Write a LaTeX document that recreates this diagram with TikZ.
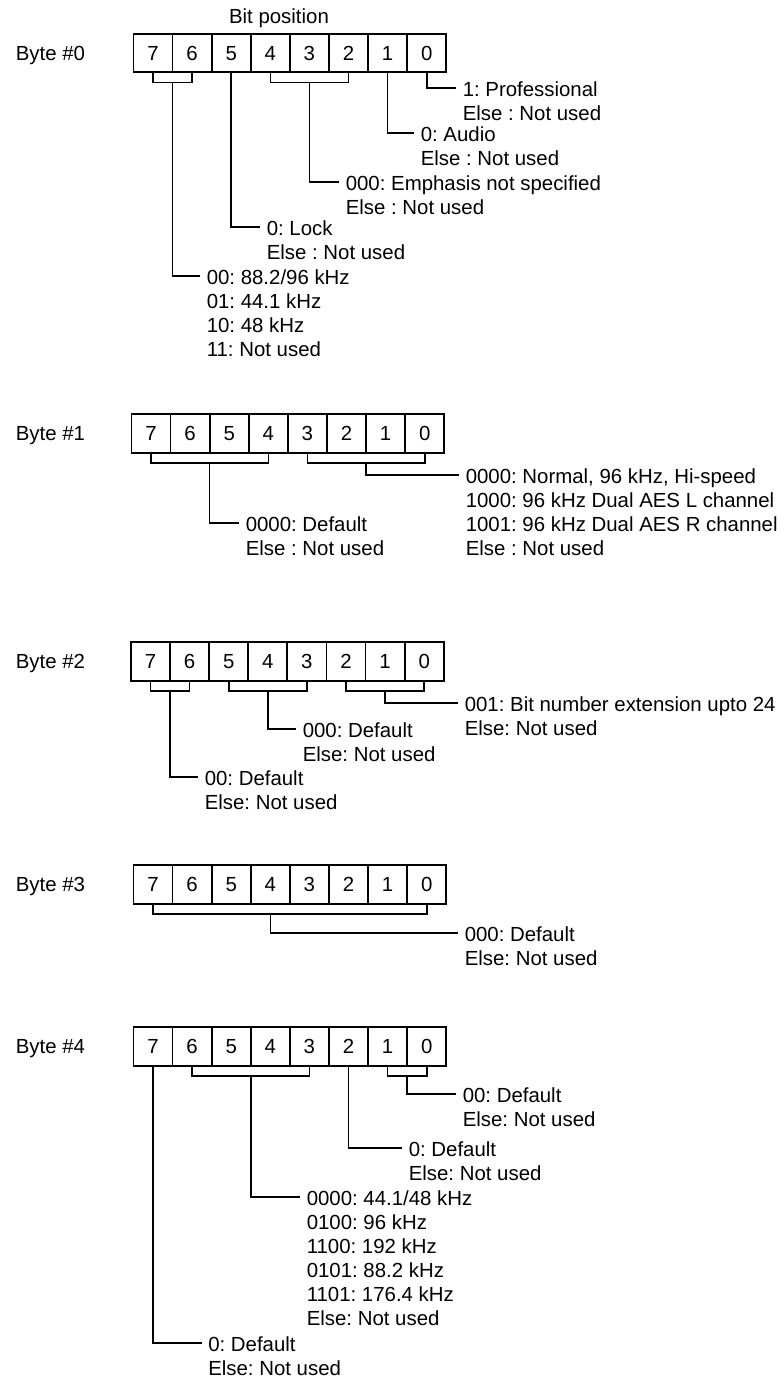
\documentclass[tikz,border=0pt]{standalone}
\usepackage{fontspec}
\setmainfont{Liberation Sans}
\frenchspacing
\usetikzlibrary{calc}

% bracket under bits #2..#3 of byte #1, lead to text node #4
\newcommand{\grplead}[4]{%
  \draw (b#1-#2.south) -- ++(0,9.5) -| (b#1-#3.south);
  \draw ($(b#1-#2.south)!0.5!(b#1-#3.south)+(0,9.5)$) |- ([yshift=-3.7pt]#4.north west);
}
% single bit #2 of byte #1, lead to text node #3
\newcommand{\bitlead}[3]{%
  \draw (b#1-#2.south) |- ([yshift=-3.7pt]#3.north west);
}

\begin{document}
\begin{tikzpicture}[x=0.5pt, y=-0.5pt, line width=0.8pt,
    every node/.style={font=\fontsize{10.2}{12}\selectfont},
    cell/.style={draw, line width=0.9pt, minimum width=19.55pt, minimum height=19.2pt,
      inner sep=0pt, text height=7.3pt, text depth=0pt},
    txt/.style={anchor=north west, align=left, inner xsep=3pt, inner ysep=0pt, yshift=3.7pt},
    bytelab/.style={anchor=base west, inner sep=0pt}]
  \useasboundingbox (0,0) rectangle (783,1378);

  \node (bitpos) at (279,18) {Bit position};

  % the five bytes, cells named b<byte>-<bit>
  \foreach \r/\y/\dx in {0/53/0, 1/433.5/-2, 2/661.5/-2.5, 3/884.5/0, 4/1046.5/0}{
    \node[bytelab] (byte\r) at (15,\y+7.3) {Byte \#\r};
    \foreach \b in {0,...,7}
      \node[cell] (b\r-\b) at ({153+\dx+39.1*(7-\b)},\y) {\b};
  }

  % byte 0
  \node[txt] (t0a) at (456,88) {1: Professional\\Else : Not used};
  \node[txt] (t0b) at (414,133) {0: Audio\\Else : Not used};
  \node[txt] (t0c) at (339,182) {000: Emphasis not specified\\Else : Not used};
  \node[txt] (t0d) at (260,227) {0: Lock\\Else : Not used};
  \node[txt] (t0e) at (200,276) {00: 88.2/96 kHz\\01: 44.1 kHz\\10: 48 kHz\\11: Not used};
  \bitlead{0}{0}{t0a}
  \bitlead{0}{1}{t0b}
  \grplead{0}{4}{2}{t0c}
  \bitlead{0}{5}{t0d}
  \grplead{0}{7}{6}{t0e}

  % byte 1
  \node[txt] (t1a) at (459,475) {0000: Normal, 96 kHz, Hi-speed\\1000: 96 kHz Dual AES L channel\\1001: 96 kHz Dual AES R channel\\Else : Not used};
  \node[txt] (t1b) at (239,523) {0000: Default\\Else : Not used};
  \grplead{1}{3}{0}{t1a}
  \grplead{1}{7}{4}{t1b}

  % byte 2
  \node[txt] (t2a) at (458,703) {001: Bit number extension upto 24\\Else: Not used};
  \node[txt] (t2b) at (296,729) {000: Default\\Else: Not used};
  \node[txt] (t2c) at (198,777) {00: Default\\Else: Not used};
  \grplead{2}{2}{0}{t2a}
  \grplead{2}{5}{3}{t2b}
  \grplead{2}{7}{6}{t2c}

  % byte 3
  \node[txt] (t3a) at (458,933) {000: Default\\Else: Not used};
  \draw (b3-7.south) -- ++(0,9.5) -| (b3-0.south);
  \draw (b3-4.south) ++(0,9.5) |- ([yshift=-3.7pt]t3a.north west);

  % byte 4
  \node[txt] (t4a) at (456,1094) {00: Default\\Else: Not used};
  \node[txt] (t4b) at (402,1148) {0: Default\\Else: Not used};
  \node[txt] (t4c) at (300,1197) {0000: 44.1/48 kHz\\0100: 96 kHz\\1100: 192 kHz\\0101: 88.2 kHz\\1101: 176.4 kHz\\Else: Not used};
  \node[txt] (t4d) at (201.5,1343) {0: Default\\Else: Not used};
  \grplead{4}{1}{0}{t4a}
  \bitlead{4}{2}{t4b}
  \grplead{4}{6}{3}{t4c}
  \bitlead{4}{7}{t4d}
\end{tikzpicture}
\end{document}
